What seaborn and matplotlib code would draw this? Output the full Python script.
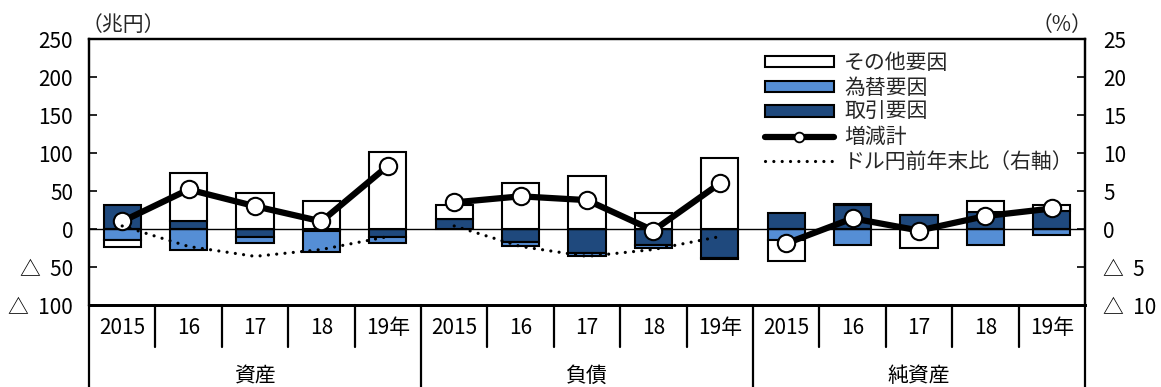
import numpy as np
import matplotlib
matplotlib.use("Agg")
import matplotlib.pyplot as plt
import matplotlib.transforms as mtransforms
from matplotlib.patches import Patch
from matplotlib.lines import Line2D
import seaborn as sns

# data (兆円 / %)
groups = ["資産", "負債", "純資産"]
years = ["2015", "16", "17", "18", "19年"]
trade = [31, 10, -10, -2, -10, 13, -17, -31, -21, -38, 21, 32, 19, 22, 24]
fx = [-15, -28, -8, -28, -9, 0, -5, -5, -4, -1, -15, -21, 0, -21, -8]
other = [-9, 64, 48, 37, 101, 19, 61, 70, 21, 94, -27, 1, -25, 15, 8]
total = [10, 52, 30, 10, 83, 35, 43, 38, -2, 60, -19, 14, -2, 17, 27]
usdjpy = [0.4, -2.3, -3.6, -2.7, -1.0]

left_ticks = [-100, -50, 0, 50, 100, 150, 200, 250]
left_labels = ["△  100", "△  50", "0", "50", "100", "150", "200", "250"]
right_ticks = [-10, -5, 0, 5, 10, 15, 20, 25]
right_labels = ["△  10", "△  5", "0", "5", "10", "15", "20", "25"]

DARK = "#1F497D"
LIGHT = "#558ED5"

sns.set_theme(style="white")
plt.rcParams["font.family"] = ["Noto Sans CJK JP", "DejaVu Sans"]
FS = 15

W, H = 1161, 387
L, R, T, B = 89, 1085, 39, 305
fig = plt.figure(figsize=(W / 100, H / 100), dpi=100)
ax = fig.add_axes([L / W, 1 - B / H, (R - L) / W, (B - T) / H])
ax2 = ax.twinx()

cats = [g + y for g in groups for y in years]
dot_style = (0, (0.01, 2.6))

# stacked bars: positives upward, negatives downward, order 取引 -> 為替 -> その他
pos = np.zeros(len(cats))
neg = np.zeros(len(cats))
for vals, col in [(trade, DARK), (fx, LIGHT), (other, "white")]:
    v = np.array(vals, dtype=float)
    bottom = np.where(v >= 0, pos, neg)
    sns.barplot(x=cats, y=v, bottom=bottom, color=col, saturation=1,
                width=0.56, edgecolor="black", linewidth=1.5,
                errorbar=None, ax=ax, zorder=2)
    pos += np.clip(v, 0, None)
    neg += np.clip(v, None, 0)

ax.axhline(0, color="black", lw=1, zorder=3)

for g in range(3):
    xs = list(range(5 * g, 5 * g + 5))
    sns.lineplot(x=xs, y=total[5 * g:5 * g + 5], ax=ax, color="black", lw=4.5,
                 marker="o", markersize=12.5, markerfacecolor="white",
                 markeredgecolor="black", markeredgewidth=1.5, zorder=5)

for g in range(2):
    xs = list(range(5 * g, 5 * g + 5))
    sns.lineplot(x=xs, y=usdjpy, ax=ax2, color="black", lw=2.3,
                 linestyle=dot_style, dash_capstyle="round", zorder=4)

ax.set_xlim(-0.5, 14.5)
ax.set_ylim(-100, 250)
ax2.set_ylim(-10, 25)
ax.set_yticks(left_ticks)
ax.set_yticklabels(left_labels, fontsize=FS)
ax2.set_yticks(right_ticks)
ax2.set_yticklabels(right_labels, fontsize=FS)
ax.set_xticks([])
ax.set_xlabel("")
ax.set_ylabel("")
ax2.set_ylabel("")
ax.tick_params(axis="y", left=True, direction="in", length=6, width=1.2,
               pad=11.5, colors="black")
ax2.tick_params(axis="y", right=True, direction="in", length=6, width=1.2,
                pad=13, colors="black")
for a in (ax, ax2):
    for s in a.spines.values():
        s.set_color("black")
        s.set_linewidth(1.6)
    a.spines["bottom"].set_linewidth(2)

# two-level category axis
trans = mtransforms.blended_transform_factory(ax.transData, ax.transAxes)
for i, c in enumerate(cats):
    ax.text(i, -0.087, years[i % 5], transform=trans, ha="center",
            va="center", fontsize=FS, color="black")
for g, name in enumerate(groups):
    ax.text(5 * g + 2, -0.268, name, transform=trans, ha="center",
            va="center", fontsize=FS, color="black")
for k in range(16):
    x = k - 0.5
    y0 = -0.33 if k % 5 == 0 else -0.158
    ax.plot([x, x], [0, y0], transform=trans, color="black", lw=1.6,
            clip_on=False)

fig.text(82 / W, 1 - 25 / H, "（兆円）", ha="left", va="center", fontsize=FS)
fig.text(1092 / W, 1 - 25 / H, "（%）", ha="right", va="center", fontsize=FS)

handles = [
    Patch(facecolor="white", edgecolor="black", linewidth=1.5),
    Patch(facecolor=LIGHT, edgecolor="black", linewidth=1.5),
    Patch(facecolor=DARK, edgecolor="black", linewidth=1.5),
    Line2D([], [], color="black", lw=4.5, marker="o", markersize=7,
           markerfacecolor="white", markeredgecolor="black", markeredgewidth=1.3),
    Line2D([], [], color="black", lw=2.3, linestyle=dot_style,
           dash_capstyle="round"),
]
labels = ["その他要因", "為替要因", "取引要因", "増減計", "ドル円前年末比（右軸）"]
leg = ax2.legend(handles, labels, loc="upper left",
                 bbox_to_anchor=((765 - L) / (R - L), 1 - (52 - T) / (B - T)),
                 frameon=False, fontsize=FS, borderpad=0, borderaxespad=0,
                 handlelength=3.3, handleheight=0.47, handletextpad=0.5,
                 labelspacing=0.13, numpoints=1)

fig.savefig("out.png", dpi=100)
